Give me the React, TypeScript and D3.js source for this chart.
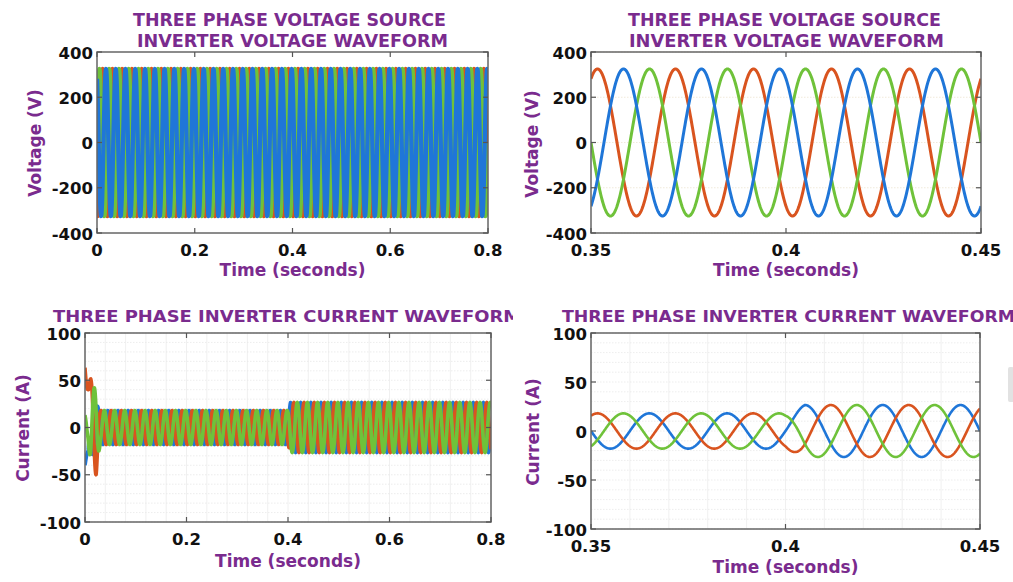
import React from "react";
import * as d3 from "d3";

// ---- waveform data ----
const LINE_FREQ_HZ = 50;
const REF_TIME_S = 0.35;
const REF_ANGLE_DEG = -30;

// Inverter output voltage (phase peak, V)
const V_NAMES = ["Va", "Vc", "Vb"];
const V_SHIFT_DEG = [0, 120, -120];
const V_ENV_T = [0, 0.8];
const V_AMP = [325, 325];
const V_OFF = [0, 0];

// Inverter output current envelope breakpoints (A)
const I_NAMES = ["Ib", "Ia", "Ic"];
const I_SHIFT_DEG = [120, 0, -120];
const I_ENV_T = [0, 0.006, 0.012, 0.022, 0.03, 0.4, 0.405, 0.8];
const I_AMP_A = [10, 20, 50, 50, 18, 18, 26.5, 26.5];
const I_OFF_A = [72, 45, 0, 0, 0, 0, 0, 0];
const I_AMP_B = [8, 10, 30, 25, 18, 18, 26.5, 26.5];
const I_OFF_B = [-40, -35, 0, 0, 0, 0, 0, 0];
const I_AMP_C = [15, 15, 42, 42, 18, 18, 26.5, 26.5];
const I_OFF_C = [0, 0, 0, 0, 0, 0, 0, 0];

// ---- axes ----
const V_TICKS = [-400, -200, 0, 200, 400];
const I_TICKS = [-100, -50, 0, 50, 100];
const T_TICKS_FULL = [0, 0.2, 0.4, 0.6, 0.8];
const T_TICKS_ZOOM = [0.35, 0.4, 0.45];

const V_TITLE = ["THREE PHASE VOLTAGE SOURCE", "INVERTER VOLTAGE WAVEFORM"];
const I_TITLE = "THREE PHASE INVERTER CURRENT WAVEFORM";
const V_LABEL = "Voltage (V)";
const I_LABEL = "Current (A)";
const T_LABEL = "Time (seconds)";

// ---- styling ----
const RED = "#d9541f";
const BLUE = "#1f76d8";
const GREEN = "#6fc23a";
const PURPLE = "#7a2b8e";
const FONT = "'DejaVu Sans', Verdana, sans-serif";

type Series = { name: string; color: string; amp: (t: number) => number; off: (t: number) => number; shift: number };

function env(ts: number[], vals: number[]) {
  return d3.scaleLinear<number, number>().domain(ts).range(vals).clamp(true);
}

const VOLTAGE: Series[] = V_NAMES.map((name, i) => ({
  name,
  color: [RED, GREEN, BLUE][i],
  amp: env(V_ENV_T, V_AMP),
  off: env(V_ENV_T, V_OFF),
  shift: V_SHIFT_DEG[i],
}));

const CURRENT: Series[] = [
  { name: I_NAMES[0], color: BLUE, amp: env(I_ENV_T, I_AMP_B), off: env(I_ENV_T, I_OFF_B), shift: I_SHIFT_DEG[0] },
  { name: I_NAMES[1], color: RED, amp: env(I_ENV_T, I_AMP_A), off: env(I_ENV_T, I_OFF_A), shift: I_SHIFT_DEG[1] },
  { name: I_NAMES[2], color: GREEN, amp: env(I_ENV_T, I_AMP_C), off: env(I_ENV_T, I_OFF_C), shift: I_SHIFT_DEG[2] },
];

function sampleSeries(s: Series, t0: number, t1: number, perCycle: number): [number, number][] {
  const step = 1 / (LINE_FREQ_HZ * perCycle);
  const ts = d3.range(t0, t1 + step / 2, step);
  return ts.map((t) => {
    const th = 2 * Math.PI * LINE_FREQ_HZ * (t - REF_TIME_S) + ((REF_ANGLE_DEG + s.shift) * Math.PI) / 180;
    return [t, s.off(t) + s.amp(t) * Math.cos(th)];
  });
}

type TitleLine = { text: string; x: number; y: number; len: number };

type PanelProps = {
  id: string;
  left: number;
  right: number;
  top: number;
  bottom: number;
  xDomain: [number, number];
  yDomain: [number, number];
  xTicks: number[];
  yTicks: number[];
  series: Series[];
  perCycle: number;
  lineWidth: number;
  titles: TitleLine[];
  titleSize: number;
  yLabel: string;
  yLabelX: number;
  yLabelY: number;
  xTickY: number;
  xLabelY: number;
  minorX?: number;
  minorY?: number;
  majorGrid?: boolean;
};

function Panel(p: PanelProps) {
  const x = d3.scaleLinear().domain(p.xDomain).range([p.left, p.right]);
  const y = d3.scaleLinear().domain(p.yDomain).range([p.bottom, p.top]);
  const line = d3
    .line<[number, number]>()
    .x((d) => x(d[0]))
    .y((d) => y(d[1]));
  const cx = (p.left + p.right) / 2;

  const minorXs = p.minorX ? d3.range(p.xDomain[0], p.xDomain[1] + 1e-9, p.minorX) : [];
  const minorYs = p.minorY ? d3.range(p.yDomain[0], p.yDomain[1] + 1e-9, p.minorY) : [];

  return (
    <g>
      <defs>
        <clipPath id={p.id}>
          <rect x={p.left} y={p.top} width={p.right - p.left} height={p.bottom - p.top} />
        </clipPath>
      </defs>
      <rect x={p.left} y={p.top} width={p.right - p.left} height={p.bottom - p.top} fill="#ffffff" />
      {minorXs.map((v, i) => (
        <line key={"mx" + i} x1={x(v)} x2={x(v)} y1={p.top} y2={p.bottom} stroke="#ececec" strokeWidth={0.8} />
      ))}
      {minorYs.map((v, i) => (
        <line key={"my" + i} x1={p.left} x2={p.right} y1={y(v)} y2={y(v)} stroke="#e8e8e8" strokeWidth={0.8} strokeDasharray="1.5 1.5" />
      ))}
      {p.majorGrid &&
        p.yTicks.map((v, i) => (
          <line key={"gy" + i} x1={p.left} x2={p.right} y1={y(v)} y2={y(v)} stroke="#ede4d2" strokeWidth={0.8} strokeDasharray="1.5 1.5" />
        ))}
      <g clipPath={`url(#${p.id})`}>
        {p.series.map((s) => (
          <path
            key={s.name}
            d={line(sampleSeries(s, p.xDomain[0], p.xDomain[1], p.perCycle)) || ""}
            fill="none"
            stroke={s.color}
            strokeWidth={p.lineWidth}
            strokeLinejoin="round"
          />
        ))}
      </g>
      <rect x={p.left} y={p.top} width={p.right - p.left} height={p.bottom - p.top} fill="none" stroke="#666666" strokeWidth={1.5} />
      {p.xTicks.map((v, i) => (
        <g key={"xt" + i}>
          <line x1={x(v)} x2={x(v)} y1={p.bottom} y2={p.bottom - 5} stroke="#555" strokeWidth={1.2} />
          <line x1={x(v)} x2={x(v)} y1={p.top} y2={p.top + 5} stroke="#555" strokeWidth={1.2} />
          <text x={x(v)} y={p.xTickY} textAnchor="middle" fontFamily={FONT} fontWeight="bold" fontSize={16.5} fill="#111">
            {String(v)}
          </text>
        </g>
      ))}
      {p.yTicks.map((v, i) => (
        <g key={"yt" + i}>
          <line x1={p.left} x2={p.left + 5} y1={y(v)} y2={y(v)} stroke="#555" strokeWidth={1.2} />
          <line x1={p.right} x2={p.right - 5} y1={y(v)} y2={y(v)} stroke="#555" strokeWidth={1.2} />
          <text x={p.left - 4} y={y(v) + 6.5} textAnchor="end" fontFamily={FONT} fontWeight="bold" fontSize={16.5} fill="#111">
            {String(v)}
          </text>
        </g>
      ))}
      {p.titles.map((t, i) => (
        <text
          key={"ti" + i}
          x={t.x}
          y={t.y}
          textLength={t.len}
          lengthAdjust="spacingAndGlyphs"
          fontFamily={FONT}
          fontWeight="bold"
          fontSize={p.titleSize}
          fill={PURPLE}
        >
          {t.text}
        </text>
      ))}
      <text x={cx} y={p.xLabelY} textAnchor="middle" fontFamily={FONT} fontWeight="bold" fontSize={17} fill={PURPLE}>
        {T_LABEL}
      </text>
      <text
        transform={`translate(${p.yLabelX},${p.yLabelY}) rotate(-90)`}
        textAnchor="middle"
        fontFamily={FONT}
        fontWeight="bold"
        fontSize={17}
        fill={PURPLE}
      >
        {p.yLabel}
      </text>
    </g>
  );
}

export default function App() {
  return (
    <svg
      width={1013}
      height={582}
      viewBox="0 0 1013 582"
      style={{ position: "absolute", left: 0, top: 0, background: "#ffffff" }}
    >
      <defs>
        <clipPath id="leftHalf">
          <rect x={0} y={0} width={513} height={582} />
        </clipPath>
      </defs>
      <rect x={0} y={0} width={1013} height={582} fill="#ffffff" />
      <g clipPath="url(#leftHalf)">
        <Panel
          id="vFull"
          left={97}
          right={488}
          top={52}
          bottom={233}
          xDomain={[0, 0.8]}
          yDomain={[-400, 400]}
          xTicks={T_TICKS_FULL}
          yTicks={V_TICKS}
          series={VOLTAGE}
          perCycle={48}
          lineWidth={4.3}
          titles={[
            { text: V_TITLE[0], x: 133, y: 26, len: 313 },
            { text: V_TITLE[1], x: 137, y: 47, len: 311 },
          ]}
          titleSize={17}
          yLabel={V_LABEL}
          yLabelX={41}
          yLabelY={143}
          xTickY={256}
          xLabelY={276}
        />
        <Panel
          id="iFull"
          left={85}
          right={491}
          top={333}
          bottom={522}
          xDomain={[0, 0.8]}
          yDomain={[-100, 100]}
          xTicks={T_TICKS_FULL}
          yTicks={I_TICKS}
          series={CURRENT}
          perCycle={48}
          lineWidth={3.6}
          titles={[{ text: I_TITLE, x: 53, y: 322, len: 468 }]}
          titleSize={16}
          yLabel={I_LABEL}
          yLabelX={29}
          yLabelY={428}
          xTickY={545}
          xLabelY={567}
          minorX={0.04}
          minorY={10}
        />
      </g>
      <Panel
        id="vZoom"
        left={591}
        right={981}
        top={52}
        bottom={233}
        xDomain={[0.35, 0.45]}
        yDomain={[-400, 400]}
        xTicks={T_TICKS_ZOOM}
        yTicks={V_TICKS}
        series={VOLTAGE}
        perCycle={160}
        lineWidth={3}
        titles={[
          { text: V_TITLE[0], x: 628, y: 26, len: 313 },
          { text: V_TITLE[1], x: 629, y: 47, len: 315 },
        ]}
        titleSize={17}
        yLabel={V_LABEL}
        yLabelX={538}
        yLabelY={144}
        xTickY={256}
        xLabelY={276}
        majorGrid
      />
      <Panel
        id="iZoom"
        left={591}
        right={980}
        top={333}
        bottom={529}
        xDomain={[0.35, 0.45]}
        yDomain={[-100, 100]}
        xTicks={T_TICKS_ZOOM}
        yTicks={I_TICKS}
        series={CURRENT}
        perCycle={160}
        lineWidth={2.6}
        titles={[{ text: I_TITLE, x: 562, y: 322, len: 453 }]}
        titleSize={16}
        yLabel={I_LABEL}
        yLabelX={539}
        yLabelY={432}
        xTickY={552}
        xLabelY={573}
        minorX={0.01}
        minorY={10}
      />
      <rect x={1008} y={367} width={6} height={35} rx={2} fill="#e2e2e2" />
    </svg>
  );
}
